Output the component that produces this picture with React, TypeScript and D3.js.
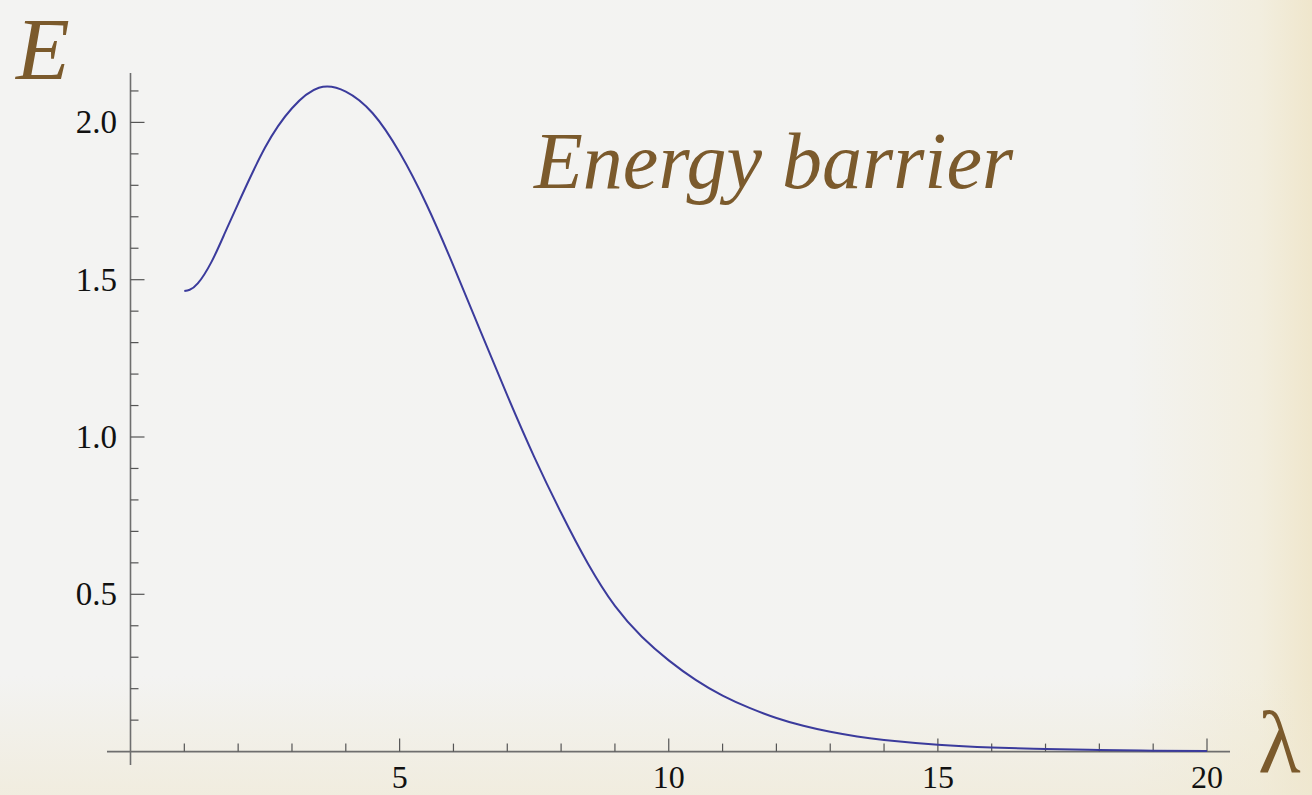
import * as d3 from "d3";
import { useEffect, useRef } from "react";

// values
const lambdaValues = [
  1, 1.1, 1.25, 1.5, 1.75, 2, 2.5, 3, 3.5, 4, 4.5, 5, 5.5, 6, 6.5, 7, 7.5, 8,
  8.5, 9, 9.5, 10, 10.5, 11, 11.5, 12, 12.5, 13, 13.5, 14, 15, 16, 17, 18, 19,
  20,
];
const energyValues = [
  1.464, 1.468, 1.488, 1.555, 1.647, 1.742, 1.92, 2.045, 2.11, 2.098, 2.029,
  1.904, 1.739, 1.544, 1.337, 1.132, 0.937, 0.759, 0.597, 0.463, 0.365, 0.29,
  0.228, 0.178, 0.139, 0.107, 0.082, 0.063, 0.048, 0.037, 0.022, 0.013, 0.008,
  0.005, 0.003, 0.002,
];
const xTickLabels = [5, 10, 15, 20];
const yTickLabels = [0.5, 1.0, 1.5, 2.0];
const xMinorTicks = d3.range(1, 21);
const yMinorTicks = d3.range(1, 22).map((d) => d / 10);

export default function App() {
  const ref = useRef<SVGSVGElement>(null);

  useEffect(() => {
    document.body.style.margin = "0";
    document.body.style.overflow = "hidden";
    if (!ref.current) return;

    const svg = d3.select(ref.current);
    svg.selectAll("*").remove();

    const width = 1312;
    const height = 795;
    const brown = "#7b5a2c";
    const axisColor = "#6e6e6e";
    const serif = "'Liberation Serif', 'DejaVu Serif', serif";

    svg.attr("width", width).attr("height", height);

    // parchment background
    const defs = svg.append("defs");
    const bgH = defs.append("linearGradient").attr("id", "bgH");
    bgH.append("stop").attr("offset", "0%").attr("stop-color", "#f3f3f2");
    bgH.append("stop").attr("offset", "86%").attr("stop-color", "#f3f3f1");
    bgH.append("stop").attr("offset", "96%").attr("stop-color", "#f2eedf");
    bgH.append("stop").attr("offset", "100%").attr("stop-color", "#efe6cc");

    const bgV = defs
      .append("linearGradient")
      .attr("id", "bgV")
      .attr("x1", 0)
      .attr("y1", 0)
      .attr("x2", 0)
      .attr("y2", 1);
    bgV.append("stop").attr("offset", "85%").attr("stop-color", "#efe8d2").attr("stop-opacity", 0);
    bgV.append("stop").attr("offset", "100%").attr("stop-color", "#efe8d2").attr("stop-opacity", 0.6);

    svg.append("rect").attr("width", width).attr("height", height).attr("fill", "url(#bgH)");
    svg.append("rect").attr("width", width).attr("height", height).attr("fill", "url(#bgV)");

    const x = d3.scaleLinear().domain([0, 20]).range([130.5, 1207]);
    const y = d3.scaleLinear().domain([0, 2]).range([751.6, 122.4]);

    // axes
    svg.append("line")
      .attr("x1", 107).attr("x2", 1230)
      .attr("y1", y(0)).attr("y2", y(0))
      .attr("stroke", axisColor).attr("stroke-width", 1.6);

    svg.append("line")
      .attr("x1", x(0)).attr("x2", x(0))
      .attr("y1", 73).attr("y2", 765)
      .attr("stroke", axisColor).attr("stroke-width", 1.6);

    // x ticks (pointing up)
    svg.append("g")
      .selectAll("line")
      .data(xMinorTicks)
      .enter()
      .append("line")
      .attr("x1", (d) => x(d))
      .attr("x2", (d) => x(d))
      .attr("y1", y(0))
      .attr("y2", (d) => y(0) - (d % 5 === 0 ? 13 : 8))
      .attr("stroke", "#555")
      .attr("stroke-width", 1.2);

    // y ticks (pointing right)
    svg.append("g")
      .selectAll("line")
      .data(yMinorTicks)
      .enter()
      .append("line")
      .attr("x1", x(0))
      .attr("x2", (d) => x(0) + (Math.round(d * 10) % 5 === 0 ? 14 : 8))
      .attr("y1", (d) => y(d))
      .attr("y2", (d) => y(d))
      .attr("stroke", "#555")
      .attr("stroke-width", 1.2);

    svg.append("g")
      .selectAll("text")
      .data(xTickLabels)
      .enter()
      .append("text")
      .attr("x", (d) => x(d))
      .attr("y", 788)
      .attr("text-anchor", "middle")
      .attr("font-family", serif)
      .attr("font-size", "32px")
      .attr("fill", "#111")
      .text((d) => d);

    svg.append("g")
      .selectAll("text")
      .data(yTickLabels)
      .enter()
      .append("text")
      .attr("x", 117)
      .attr("y", (d) => y(d) + 11)
      .attr("text-anchor", "end")
      .attr("font-family", serif)
      .attr("font-size", "33px")
      .attr("fill", "#111")
      .text((d) => d.toFixed(1));

    // curve
    const points = lambdaValues.map((l, i) => [l, energyValues[i]] as [number, number]);
    const line = d3
      .line<[number, number]>()
      .x((d) => x(d[0]))
      .y((d) => y(d[1]))
      .curve(d3.curveNatural);

    svg.append("path")
      .datum(points)
      .attr("d", line)
      .attr("fill", "none")
      .attr("stroke", "#3b3b9c")
      .attr("stroke-width", 2);

    // labels
    svg.append("text")
      .attr("x", 16)
      .attr("y", 79)
      .attr("font-family", serif)
      .attr("font-style", "italic")
      .attr("font-size", "88px")
      .attr("fill", brown)
      .text("E");

    svg.append("text")
      .attr("x", 1258)
      .attr("y", 773)
      .attr("font-family", serif)
      .attr("font-size", "88px")
      .attr("fill", brown)
      .text("λ");

    svg.append("text")
      .attr("x", 534)
      .attr("y", 188)
      .attr("font-family", serif)
      .attr("font-style", "italic")
      .attr("font-size", "80px")
      .attr("fill", brown)
      .text("Energy barrier");
  }, []);

  return <svg ref={ref} style={{ display: "block" }} />;
}
